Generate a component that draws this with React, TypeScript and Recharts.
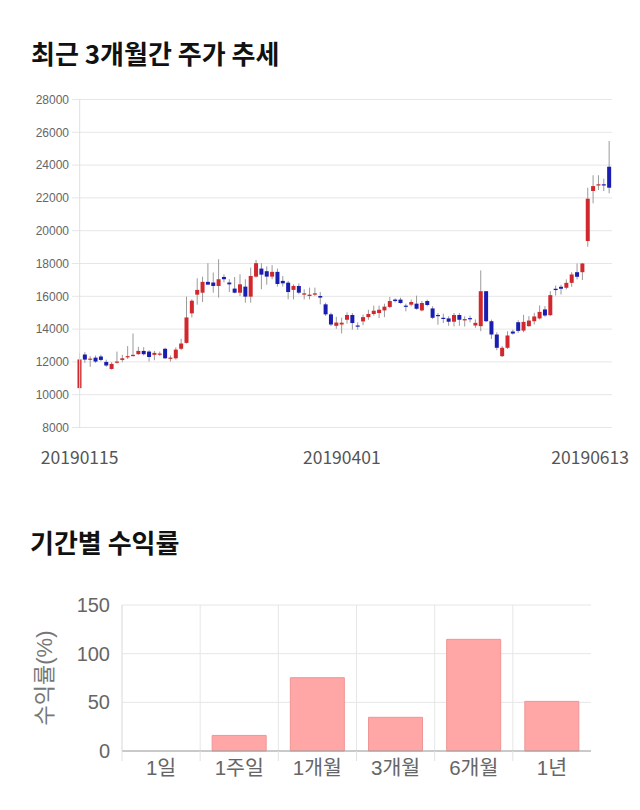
import React from 'react';
import { BarChart, Bar, XAxis, YAxis, CartesianGrid, ReferenceLine, Label } from 'recharts';

const dates = [
  '20190115','20190116','20190117','20190118','20190121','20190122','20190123','20190124','20190125','20190128',
  '20190129','20190130','20190131','20190207','20190208','20190211','20190212','20190213','20190214','20190215',
  '20190218','20190219','20190220','20190221','20190222','20190225','20190226','20190227','20190228','20190304',
  '20190305','20190306','20190307','20190308','20190311','20190312','20190313','20190314','20190315','20190318',
  '20190319','20190320','20190321','20190322','20190325','20190326','20190327','20190328','20190329','20190401',
  '20190402','20190403','20190404','20190405','20190408','20190409','20190410','20190411','20190412','20190415',
  '20190416','20190417','20190418','20190419','20190422','20190423','20190424','20190425','20190426','20190429',
  '20190430','20190502','20190503','20190507','20190508','20190509','20190510','20190513','20190514','20190515',
  '20190516','20190517','20190520','20190521','20190522','20190523','20190524','20190527','20190528','20190529',
  '20190530','20190531','20190603','20190604','20190605','20190607','20190610','20190611','20190612','20190613',
];

const openPrices = [
  10400,12450,12140,12260,12330,12000,11570,11960,12120,12290,
  12350,12470,12670,12630,12430,12490,12800,12220,12220,12800,
  13160,14960,16100,16220,16880,16840,16630,17180,16840,16470,
  16220,16590,15980,17200,17690,17530,17200,17490,16940,16830,
  16390,16630,16100,16020,16100,16020,15510,14900,14200,14280,
  14570,14860,14220,14470,14730,14920,14980,15140,15350,15800,
  15800,15430,15490,15550,15140,15710,15260,14860,14690,14650,
  14450,14860,14530,14670,14220,14180,16310,14480,13670,12350,
  12860,13850,14420,13910,14180,14480,14650,15200,14850,16460,
  16580,16520,16820,17470,17470,19370,22420,22790,22830,23900,
];

const highPrices = [
  12550,12590,12350,12390,12430,12140,11980,12630,12430,12960,
  13730,12920,12900,12710,12670,12630,12860,12390,12880,13410,
  15980,15820,17100,17200,18020,17450,18260,17340,17040,17180,
  17340,17040,17750,18220,18020,17820,17900,17690,17240,16940,
  16730,16790,16430,16530,16530,16260,15610,15000,14750,14690,
  15020,14980,14410,14880,15180,15430,15430,15550,15960,15880,
  15920,15550,15800,16040,15710,15800,15390,14980,14940,14780,
  14980,14980,14780,14820,14590,17580,16310,14580,13810,12960,
  13870,13970,14540,14870,14790,14990,15440,15400,16310,16660,
  16700,17030,17470,18000,18040,22620,23380,23380,23170,25470,
];

const lowPrices = [
  10400,11940,11700,11940,12040,11700,11530,11900,11980,12180,
  12350,12430,12390,12020,12100,12350,12180,12020,12140,12710,
  13120,14710,15490,15650,16710,16220,15920,16850,16260,16180,
  16020,15610,15610,17140,16430,16710,17040,16590,16590,15810,
  15810,16120,15810,15810,16020,15510,14800,14180,14020,13730,
  14330,13960,13960,14240,14570,14820,14670,14730,15290,15630,
  15550,15080,15390,15180,15080,15390,14610,14270,14370,14200,
  14160,14200,14160,14410,14080,13870,14420,13400,12710,12300,
  12790,13670,13770,13810,14140,14280,14590,14750,14790,16050,
  16110,16420,16580,17030,16990,19020,21670,22480,22420,22280,
];

const closePrices = [
  12150,12140,12200,12020,12120,11780,11880,12020,12220,12350,
  12430,12670,12470,12300,12550,12510,12220,12260,12750,13120,
  14710,15730,16390,16880,16710,16630,17040,17040,16730,16220,
  16730,15980,17240,18020,17320,17200,17490,16750,16790,16260,
  16630,16220,16180,16100,16180,15920,14900,14280,14400,14390,
  14860,14370,14180,14730,14920,15120,15180,15370,15710,15710,
  15590,15390,15650,15240,15590,15470,14690,14820,14650,14450,
  14860,14570,14610,14610,14380,16310,14480,13670,12860,12860,
  13610,13730,13890,14440,14520,14770,15050,14830,16070,16380,
  16460,16820,17330,17190,18000,21950,22720,22830,22790,22620,
];

const priceTicks = [8000, 10000, 12000, 14000, 16000, 18000, 20000, 22000, 24000, 26000, 28000];
const dateLabels = ['20190115', '20190401', '20190613'];

const periodLabels = ['1일', '1주일', '1개월', '3개월', '6개월', '1년'];
const periodReturns = [0, 16, 75.3, 34.6, 114.7, 51];
const returnTicks = [0, 50, 100, 150];

const RED = '#d0282c';
const BLUE = '#1a1eb0';
const LATIN = '"Liberation Sans", Arial, "Noto Sans CJK KR", sans-serif';
const KOREAN = '"Noto Sans CJK KR", "Noto Sans", sans-serif';

const candleRows = dates.map((date, i) => ({
  date,
  open: openPrices[i],
  high: highPrices[i],
  low: lowPrices[i],
  close: closePrices[i],
  range: [lowPrices[i], highPrices[i]],
}));

const returnRows = periodLabels.map((label, i) => ({ label, value: periodReturns[i] }));

const Candle = (props: any) => {
  const { x, y, width, height, payload } = props;
  const { open, close, high, low } = payload;
  const cx = x + width / 2;
  const span = high - low;
  const yOf = (v: number) => (span === 0 ? y : y + ((high - v) / span) * height);
  const color = close > open ? RED : close < open ? BLUE : '#333';
  const top = yOf(Math.max(open, close));
  const bottom = yOf(Math.min(open, close));
  return (
    <g>
      <line x1={cx} x2={cx} y1={y} y2={y + height} stroke="#9a9a9a" strokeWidth={1} />
      <rect x={cx - 2} y={top} width={4} height={Math.max(bottom - top, 1.2)} fill={color} />
    </g>
  );
};

const DateTick = (props: any) => {
  const { x, y, payload } = props;
  if (!dateLabels.includes(payload.value)) return <g />;
  const isLast = payload.value === dates[dates.length - 1];
  return (
    <text
      x={isLast ? Math.min(x + 40, 629) : x}
      y={y + 32}
      textAnchor={isLast ? 'end' : 'middle'}
      dominantBaseline="middle"
      fontSize={17.5}
      fontFamily={KOREAN}
      fill="#555"
    >
      {payload.value}
    </text>
  );
};

const BAR_CHART_W = 640;
const BAR_MARGIN_RIGHT = 49;
const BAR_YAXIS_W = 122;
const BAND = (BAR_CHART_W - BAR_MARGIN_RIGHT - BAR_YAXIS_W) / periodLabels.length;

const PeriodTick = (props: any) => {
  const { x, y, payload } = props;
  return (
    <g>
      <line x1={x - BAND / 2} x2={x - BAND / 2} y1={y} y2={y + 10} stroke="#e2e2e2" />
      <text x={x} y={y + 19} textAnchor="middle" dominantBaseline="middle" fontSize={20.5} fontFamily={LATIN} fill="#666">
        {payload.value}
      </text>
    </g>
  );
};

const YLabel = (props: any) => {
  const { viewBox } = props;
  const cx = 46;
  const cy = viewBox.y + viewBox.height / 2;
  return (
    <text
      x={cx}
      y={cy}
      transform={`rotate(-90, ${cx}, ${cy})`}
      textAnchor="middle"
      dominantBaseline="middle"
      fontSize={22}
      fontFamily={LATIN}
      fill="#777"
    >
      수익률(%)
    </text>
  );
};

export default function App() {
  return (
    <div style={{ position: 'absolute', left: 0, top: 0, width: 640, height: 810, background: '#fff', fontFamily: LATIN }}>
      <div style={{ position: 'absolute', left: 31, top: 39.5, fontFamily: KOREAN, fontWeight: 700, fontSize: 26, lineHeight: '26px', color: '#111', whiteSpace: 'nowrap' }}>
        최근 3개월간 주가 추세
      </div>
      <div style={{ position: 'absolute', left: 0, top: 0 }}>
        <BarChart
          width={640}
          height={480}
          data={candleRows}
          margin={{ top: 99.5, right: 28, left: 0, bottom: 0 }}
          barCategoryGap={0}
        >
          <CartesianGrid vertical={false} stroke="#e6e6e6" />
          <XAxis
            dataKey="date"
            height={52.5}
            interval={0}
            axisLine={false}
            tickLine={false}
            tickSize={0}
            tickMargin={0}
            tick={<DateTick />}
          />
          <YAxis
            width={77}
            domain={[8000, 28000]}
            ticks={priceTicks}
            interval={0}
            axisLine={false}
            tickLine={{ stroke: '#e6e6e6' }}
            tickSize={5}
            tickMargin={3}
            tick={{ fontSize: 12, fill: '#666', fontFamily: LATIN }}
          />
          <ReferenceLine x={dates[0]} stroke="#e0e0e0" />
          <Bar dataKey="range" shape={<Candle />} isAnimationActive={false} />
        </BarChart>
      </div>
      <div style={{ position: 'absolute', left: 30, top: 528.5, fontFamily: KOREAN, fontWeight: 700, fontSize: 26, lineHeight: '26px', color: '#111', whiteSpace: 'nowrap' }}>
        기간별 수익률
      </div>
      <div style={{ position: 'absolute', left: 0, top: 560 }}>
        <BarChart
          width={BAR_CHART_W}
          height={240}
          data={returnRows}
          margin={{ top: 45, right: BAR_MARGIN_RIGHT, left: 0, bottom: 0 }}
        >
          <CartesianGrid
            stroke="#e6e6e6"
            verticalCoordinatesGenerator={({ offset }: any) =>
              periodLabels.slice(1).map((_, i) => offset.left + ((i + 1) * offset.width) / periodLabels.length)
            }
          />
          <XAxis
            dataKey="label"
            height={49}
            interval={0}
            axisLine={{ stroke: '#a0a0a0' }}
            tickLine={false}
            tickSize={0}
            tickMargin={0}
            tick={<PeriodTick />}
          />
          <YAxis
            width={BAR_YAXIS_W}
            domain={[0, 150]}
            ticks={returnTicks}
            interval={0}
            axisLine={{ stroke: '#d8d8d8' }}
            tickLine={false}
            tickSize={0}
            tickMargin={12}
            tick={{ fontSize: 20, fill: '#666', fontFamily: LATIN }}
          >
            <Label content={<YLabel />} />
          </YAxis>
          <Bar dataKey="value" barSize={54} fill="#ffa6a6" stroke="#f09595" strokeWidth={1} isAnimationActive={false} />
        </BarChart>
      </div>
    </div>
  );
}
